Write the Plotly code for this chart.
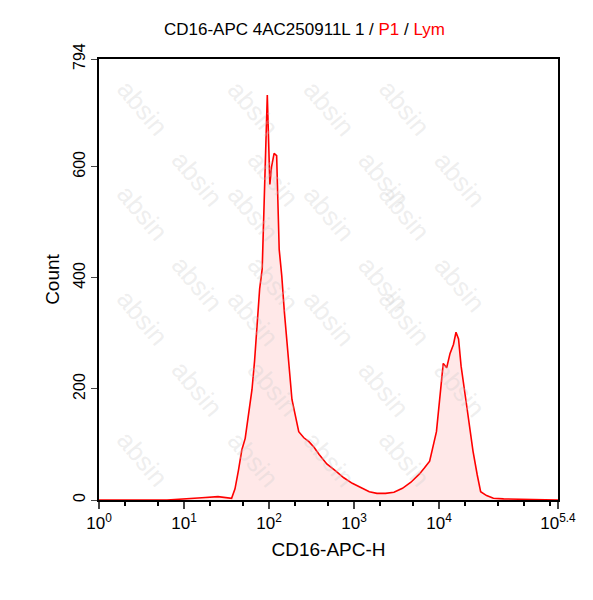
import plotly.graph_objects as go

log_x = [0.0, 0.8, 1.21, 1.4, 1.56, 1.60, 1.64, 1.68, 1.72, 1.76, 1.80, 1.83, 1.86, 1.89, 1.92, 1.95, 1.98, 2.01, 2.03,
         2.06, 2.09, 2.12, 2.15, 2.18, 2.21, 2.27, 2.35, 2.41, 2.47, 2.53, 2.59, 2.68, 2.78, 2.88, 2.98, 3.08, 3.18,
         3.27, 3.37, 3.47, 3.57, 3.67, 3.77, 3.83, 3.89, 3.97, 4.01, 4.05, 4.09, 4.13, 4.17, 4.20, 4.23, 4.26, 4.32,
         4.36, 4.40, 4.45, 4.49, 4.56, 4.64, 4.76, 5.0, 5.4]
counts = [0, 0, 4, 6, 3, 20, 53, 90, 111, 160, 199, 250, 316, 380, 416, 580, 729, 568, 600,
          624, 620, 451, 404, 340, 287, 181, 123, 112, 105, 95, 82, 65, 53, 40, 30, 22, 15,
          12, 12, 14, 21, 32, 47, 58, 70, 123, 190, 246, 238, 264, 280, 302, 290, 241, 176,
          130, 88, 45, 15, 8, 3, 2, 1, 0]
xs = [10 ** v for v in log_x]

tick_vals = [1, 10, 100, 1000, 10000, 10 ** 5.4]
tick_text = ["10<sup>0</sup>", "10<sup>1</sup>", "10<sup>2</sup>", "10<sup>3</sup>", "10<sup>4</sup>", "10<sup>5.4</sup>"]
y_ticks = [0, 200, 400, 600, 794]

fig = go.Figure(go.Scatter(x=xs, y=counts, mode="lines", fill="tozeroy",
                           line=dict(color="#ff0000", width=1.6),
                           fillcolor="rgba(255,0,0,0.09)"))

# watermark
ann = []
for r in range(7):
    for c in range(5):
        xp = 0.02 + c * 0.24 + (r % 2) * 0.12
        if xp > 0.95:
            continue
        ann.append(dict(xref="paper", yref="paper", x=xp, y=0.97 - r * 0.16,
                        text="absin", showarrow=False, textangle=50,
                        font=dict(size=26, color="rgba(200,200,200,0.3)", family="Arial")))
fig.update_layout(annotations=ann)

fig.update_layout(
    width=593, height=600, paper_bgcolor="white", plot_bgcolor="white",
    margin=dict(l=91, r=43, t=51, b=108), showlegend=False,
    font=dict(family="Liberation Sans, Arial", size=16, color="black"),
    title=dict(text="CD16-APC 4AC250911L 1 / <span style='color:red'>P1</span> / <span style='color:red'>Lym</span>",
               x=0.5, xanchor="center", y=0.975, font=dict(size=17)),
    xaxis=dict(type="log", range=[0, 5.4], tickvals=tick_vals, ticktext=tick_text,
               ticks="outside", ticklen=7, tickwidth=1.5, showgrid=False, zeroline=False,
               showline=True, linecolor="black", linewidth=2, mirror=True,
               minor=dict(ticks="outside", ticklen=4, tickcolor="black", showgrid=False),
               title=dict(text="CD16-APC-H", standoff=10), tickfont=dict(size=17)),
    yaxis=dict(range=[0, 794], tickvals=y_ticks, tickangle=-90, ticks="outside", ticklen=6,
               showgrid=False, zeroline=False, showline=True, linecolor="black", linewidth=2, mirror=True,
               title=dict(text="Count", standoff=6), tickfont=dict(size=16)),
)
fig.write_html("out.html")
